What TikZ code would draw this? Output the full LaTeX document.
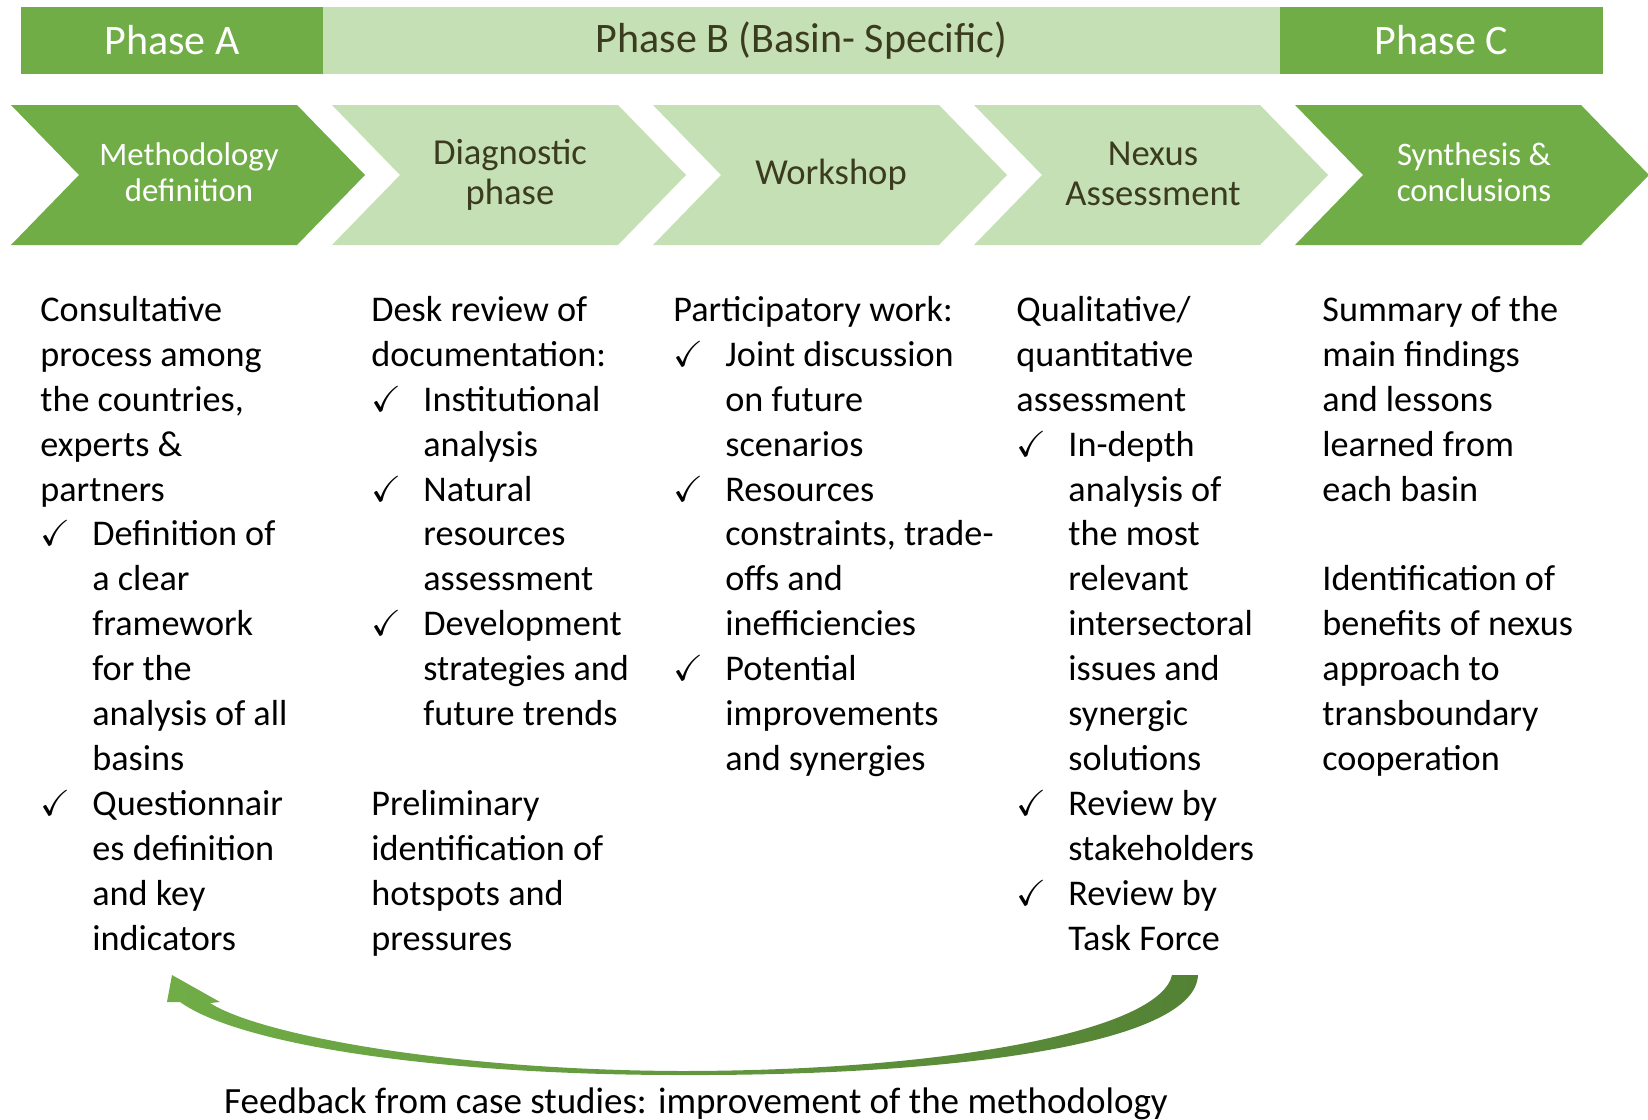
\documentclass[tikz,border=0pt]{standalone}
\usepackage{fontspec}
\usepackage{amssymb}
\setmainfont{Carlito}
\definecolor{phasedark}{HTML}{70AD47}
\definecolor{phaselight}{HTML}{C5E0B4}
\definecolor{phaseink}{HTML}{3B3B1F}
\definecolor{loopdark}{HTML}{548235}
\newcommand{\tickln}[1]{\makebox[26pt][l]{$\checkmark$}#1}
\newcommand{\contln}[1]{\hspace*{26pt}#1}

\begin{document}
\begin{tikzpicture}[x=0.5pt, y=-0.5pt]
	\tikzstyle{phasebar} = [minimum height=33.5pt, inner sep=0pt, font=\fontsize{21}{25}\selectfont]
	\tikzstyle{stepname} = [align=center, inner sep=0pt]
	\tikzstyle{column}   = [anchor=north west, align=left, inner sep=0pt, font=\fontsize{18.1}{22.45}\selectfont]

	\useasboundingbox (0,0) rectangle (1648,1119);

	% phases
	\node[phasebar, fill=phasedark, text=white, minimum width=151pt] (phaseA) at (172,40.5) {Phase A};
	\node[phasebar, fill=phaselight, text=phaseink, minimum width=478.5pt] (phaseB) at (801.5,40.5) {Phase B (Basin- Specific)};
	\node[phasebar, fill=phasedark, text=white, minimum width=161.5pt] (phaseC) at (1441.5,40.5) {Phase C};

	% chevrons
	\foreach \i/\tone in {0/phasedark, 1/phaselight, 2/phaselight, 3/phaselight, 4/phasedark}
		\fill[\tone] ({11+321*\i},105) -- ++(286,0) -- ++(68,70) -- ++(-68,70) -- ++(-286,0) -- ++(68,-70) -- cycle;

	\node[stepname, text=white, font=\fontsize{16.4}{18}\selectfont] (methdef) at (189,172) {Methodology\\definition};
	\node[stepname, text=phaseink, font=\fontsize{18.3}{20}\selectfont] (diag) at (510,175) {Diagnostic\\phase};
	\node[stepname, text=phaseink, font=\fontsize{18.3}{20}\selectfont] (workshop) at (831,175) {Workshop};
	\node[stepname, text=phaseink, font=\fontsize{18.3}{20}\selectfont] (nexus) at (1153,174) {Nexus\\Assessment};
	\node[stepname, text=white, font=\fontsize{16.4}{18}\selectfont] (synth) at (1474,172) {Synthesis \&\\conclusions};

	% column texts
	\node[column] (colA) at (40,289.6) {\strut Consultative\\process among\\the countries,\\experts \&\\partners\\
		\tickln{Definition of}\\\contln{a clear}\\\contln{framework}\\\contln{for the}\\\contln{analysis of all}\\\contln{basins}\\
		\tickln{Questionnair}\\\contln{es definition}\\\contln{and key}\\\contln{indicators}};
	\node[column] (colB) at (371,289.6) {\strut Desk review of\\documentation:\\
		\tickln{Institutional}\\\contln{analysis}\\
		\tickln{Natural}\\\contln{resources}\\\contln{assessment}\\
		\tickln{Development}\\\contln{strategies and}\\\contln{future trends}\\
		\mbox{}\\Preliminary\\identification of\\hotspots and\\pressures};
	\node[column] (colC) at (673,289.6) {\strut Participatory work:\\
		\tickln{Joint discussion}\\\contln{on future}\\\contln{scenarios}\\
		\tickln{Resources}\\\contln{constraints, trade-}\\\contln{offs and}\\\contln{inefficiencies}\\
		\tickln{Potential}\\\contln{improvements}\\\contln{and synergies}};
	\node[column] (colD) at (1016,289.6) {\strut Qualitative/\\quantitative\\assessment\\
		\tickln{In-depth}\\\contln{analysis of}\\\contln{the most}\\\contln{relevant}\\\contln{intersectoral}\\\contln{issues and}\\\contln{synergic}\\\contln{solutions}\\
		\tickln{Review by}\\\contln{stakeholders}\\
		\tickln{Review by}\\\contln{Task Force}};
	\node[column] (colE) at (1322,289.6) {\strut Summary of the\\main findings\\and lessons\\learned from\\each basin\\
		\mbox{}\\Identification of\\benefits of nexus\\approach to\\transboundary\\cooperation};

	% feedback loop
	\coordinate (looptail) at (1185,975);
	\coordinate (loophead) at (172,975);
	\shade[left color=phasedark, right color=loopdark] (loophead) -- (220,1002) -- (210,1003)
		.. controls (260,1035) and (450,1070) .. (680,1071)
		.. controls (950,1071) and (1160,1030) .. (1172,975) -- (1198,975)
		.. controls (1195,1045) and (950,1076) .. (680,1075)
		.. controls (440,1075) and (240,1045) .. (180,1002) -- (167,1002) -- cycle;
	\node[anchor=base, inner sep=0pt, font=\fontsize{18.5}{22}\selectfont] (feedback) at (696,1113) {Feedback from case studies: improvement of the methodology};
\end{tikzpicture}
\end{document}
